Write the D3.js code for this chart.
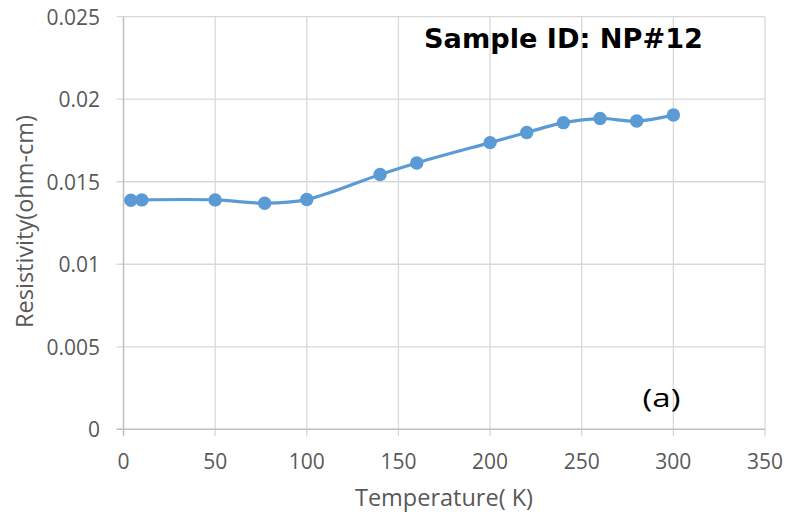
<!DOCTYPE html>
<html>
<head>
<meta charset="utf-8">
<script src="https://cdn.jsdelivr.net/npm/d3@7"></script>
<style>
  html, body { margin: 0; padding: 0; background: #fff; }
  svg { display: block; }
</style>
</head>
<body>
<svg id="chart" width="788" height="519"></svg>
<script>
const temperature = [4, 10, 50, 77, 100, 140, 160, 200, 220, 240, 260, 280, 300];
const resistivity = [0.01388, 0.01390, 0.01390, 0.01370, 0.01392, 0.01544, 0.01614, 0.01737, 0.01798, 0.01858, 0.01883, 0.01868, 0.01904];
const xTicks = [0, 50, 100, 150, 200, 250, 300, 350];
const yTicks = [0, 0.005, 0.01, 0.015, 0.02, 0.025];
const yTickLabels = ["0", "0.005", "0.01", "0.015", "0.02", "0.025"];
const xTitle = "Temperature( K)";
const yTitle = "Resistivity(ohm-cm)";
const annotation = "Sample ID: NP#12";
const panelLabel = "(a)";

const svg = d3.select("#chart");
const x = d3.scaleLinear().domain([0, 350]).range([123.5, 765]);
const y = d3.scaleLinear().domain([0, 0.025]).range([429.3, 16.7]);

const font = "'Open Sans', sans-serif";
const gridColor = "#d9d9d9";
const textColor = "#595959";

// vertical gridlines
svg.append("g").selectAll("line").data(xTicks.filter(d => d !== 0)).join("line")
  .attr("x1", d => x(d)).attr("x2", d => x(d))
  .attr("y1", y(0.025)).attr("y2", y(0) + 7)
  .attr("stroke", gridColor).attr("stroke-width", 1.3);
// horizontal gridlines
svg.append("g").selectAll("line").data(yTicks.filter(d => d !== 0)).join("line")
  .attr("x1", x(0) - 7).attr("x2", x(350))
  .attr("y1", d => y(d)).attr("y2", d => y(d))
  .attr("stroke", gridColor).attr("stroke-width", 1.3);

// axis lines
const axisColor = "#bfbfbf";
svg.append("line").attr("x1", x(0)).attr("x2", x(0)).attr("y1", y(0.025)).attr("y2", y(0) + 7)
  .attr("stroke", axisColor).attr("stroke-width", 1.5);
svg.append("line").attr("x1", x(0) - 7).attr("x2", x(350)).attr("y1", y(0)).attr("y2", y(0))
  .attr("stroke", axisColor).attr("stroke-width", 1.5);

// tick labels
svg.append("g").selectAll("text").data(xTicks).join("text")
  .attr("x", d => x(d)).attr("y", y(0) + 40)
  .attr("text-anchor", "middle")
  .attr("font-family", font).attr("font-size", 21).attr("fill", textColor)
  .text(d => d);
svg.append("g").selectAll("text").data(yTicks).join("text")
  .attr("x", 100).attr("y", d => y(d) + 8)
  .attr("text-anchor", "end")
  .attr("font-family", font).attr("font-size", 21).attr("fill", textColor)
  .text((d, i) => yTickLabels[i]);

// axis titles
svg.append("text").attr("x", 444).attr("y", 506)
  .attr("text-anchor", "middle")
  .attr("font-family", font).attr("font-size", 23.5).attr("fill", textColor)
  .text(xTitle);
svg.append("text")
  .attr("transform", "translate(33,221.5) rotate(-90)")
  .attr("text-anchor", "middle")
  .attr("font-family", font).attr("font-size", 23.5).attr("fill", textColor)
  .text(yTitle);

// line + markers
const data = temperature.map((t, i) => ({ t, r: resistivity[i] }));
const line = d3.line().x(d => x(d.t)).y(d => y(d.r)).curve(d3.curveCatmullRom.alpha(0.5));
svg.append("path").datum(data)
  .attr("d", line).attr("fill", "none")
  .attr("stroke", "#5b9bd5").attr("stroke-width", 3.2).attr("stroke-linejoin", "round");
svg.append("g").selectAll("circle").data(data).join("circle")
  .attr("cx", d => x(d.t)).attr("cy", d => y(d.r)).attr("r", 6.7)
  .attr("fill", "#5b9bd5");

// annotations
svg.append("text").attr("x", 424).attr("y", 48)
  .attr("font-family", "'DejaVu Sans', Verdana, sans-serif").attr("font-weight", "bold")
  .attr("font-size", 27).attr("fill", "#000")
  .attr("textLength", 279).attr("lengthAdjust", "spacingAndGlyphs")
  .text(annotation);
svg.append("text").attr("x", 642.5).attr("y", 406.5)
  .attr("font-family", font).attr("font-size", 26).attr("fill", "#000")
  .attr("textLength", 38).attr("lengthAdjust", "spacingAndGlyphs")
  .text(panelLabel);
</script>
</body>
</html>
